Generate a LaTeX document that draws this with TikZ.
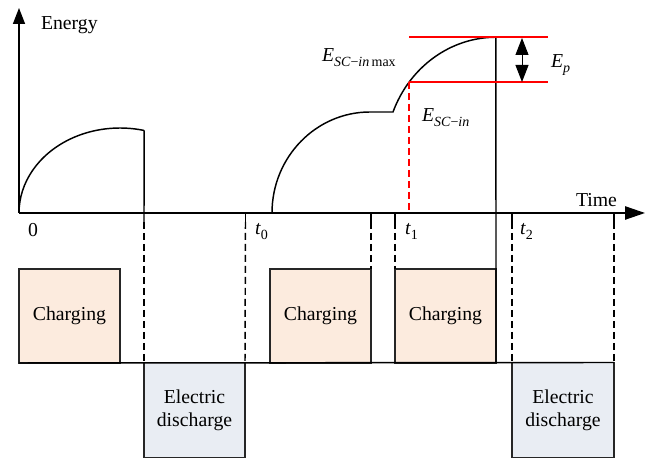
\documentclass[tikz,border=0pt]{standalone}
\usepackage{fontspec}
\setmainfont{Liberation Serif}
\usetikzlibrary{arrows.meta}
\definecolor{chgfill}{RGB}{252,235,222}
\definecolor{disfill}{RGB}{233,237,243}
\newcommand{\subit}[2]{\textit{#1}\raisebox{-0.55ex}{\fontsize{10.5}{11}\selectfont #2}}
\begin{document}
\begin{tikzpicture}[x=0.75pt,y=0.75pt,
 every node/.style={font=\fontsize{14.8}{17.25}\selectfont, inner sep=0pt, outer sep=0pt},
 axis/.style={line width=1.1pt,-{Triangle[length=15pt,width=10pt]}},
 curve/.style={line width=1.1pt},
 solid line/.style={line width=1.1pt},
 dsh/.style={line width=1.1pt, dash pattern=on 5.25pt off 3pt},
 redl/.style={red, line width=1.1pt},
 redd/.style={red, line width=1.1pt, dash pattern=on 5.25pt off 3pt},
 chg/.style={draw=black!85, line width=1.1pt, fill=chgfill, minimum width=75.75pt, minimum height=70.5pt, anchor=south west},
 dis/.style={draw=black!85, line width=1.1pt, fill=disfill, minimum height=71.25pt, anchor=south west, align=center},
 lbl/.style={anchor=base west},
]
\useasboundingbox (0,0) rectangle (658,459);

% boxes
\node[chg] (ch1) at (19,96) {Charging};
\node[chg] (ch2) at (270,96) {Charging};
\node[chg] (ch3) at (395,96) {Charging};
\node[dis, minimum width=75.75pt] (ds1) at (144,1.5) {Electric\\discharge};
\node[dis, minimum width=76.5pt] (ds2) at (512,1.5) {Electric\\discharge};
\draw[solid line] (ch1.south west) -- (ds2.north east);

% axes
\coordinate (O) at (19,246);
\coordinate (ytop) at (19,451);
\coordinate (xend) at (645,246);
\draw[line width=1.1pt,-{Triangle[length=12pt,width=9pt]}] (O) -- (ytop);
\draw[axis] (O) -- (xend);
\node[lbl] (energy) at (41,429) {Energy};
\node[lbl] (time) at (576,252) {Time};

% curve 1
\draw[curve] (O) arc[start angle=180, end angle=76.2, x radius=75.75pt, y radius=63.75pt] coordinate (c1e);
\coordinate (k1) at (144,237);
\draw[solid line] (c1e) -- (k1);
\draw[dsh] (k1) -- (ds1.north west);

% curve 2
\coordinate (c2s) at (272,246);
\draw[curve] (c2s) arc[start angle=180, end angle=90, x radius=73.5pt, y radius=75.75pt] coordinate (c2p)
  -- (393,347) coordinate (c2q)
  arc[start angle=158.5, end angle=90, x radius=83pt, y radius=88.5pt] coordinate (c2top);
\draw[solid line] (c2top) -- (ch3.south east);

% ticks and dashed lines
\coordinate (t0a) at (245.5,246); \coordinate (t0b) at (245.5,237);
\draw[solid line] (t0a) -- (t0b); \draw[dsh] (t0b) -- (ds1.north east);
\coordinate (taa) at (371,246); \coordinate (tab) at (371,237);
\draw[solid line] (taa) -- (tab); \draw[dsh] (tab) -- (ch2.north east);
\coordinate (t1a) at (395,246); \coordinate (t1b) at (395,237);
\draw[solid line] (t1a) -- (t1b); \draw[dsh] (t1b) -- (ch3.north west);
\coordinate (t2a) at (512,246); \coordinate (t2b) at (512,237);
\draw[solid line] (t2a) -- (t2b); \draw[dsh] (t2b) -- (ds2.north west);
\coordinate (t3a) at (614,246); \coordinate (t3b) at (614,237);
\draw[solid line] (t3a) -- (t3b); \draw[dsh] (t3b) -- (ds2.north east);

% tick labels
\node[lbl] (l0) at (28,222) {0};
\node[lbl] (lt0) at (255,224) {\subit{t}{0}};
\node[lbl] (lt1) at (405,224) {\subit{t}{1}};
\node[lbl] (lt2) at (520,224) {\subit{t}{2}};

% red markers
\coordinate (rA) at (409,377);
\coordinate (rB) at (548,377);
\coordinate (rC) at (409,422);
\coordinate (rD) at (548,422);
\coordinate (rF) at (409,246);
\draw[redl] (rA) -- (rB);
\draw[redl] (rC) -- (rD);
\draw[redd] (rA) -- (rF);

% double arrow
\coordinate (ea) at (522,421);
\coordinate (eb) at (522,377);
\draw[line width=0.7pt, {Triangle[length=12.75pt,width=9.75pt]}-{Triangle[length=12.75pt,width=9.75pt]}] (ea) -- (eb);

% energy labels
\node[lbl] (emax) at (322,397) {\subit{E}{\textit{SC}−\textit{in}\,max}};
\node[lbl] (ein) at (422,337) {\subit{E}{\textit{SC}−\textit{in}}};
\node[lbl] (ep) at (551,391) {\subit{E}{\textit{p}}};
\end{tikzpicture}
\end{document}
